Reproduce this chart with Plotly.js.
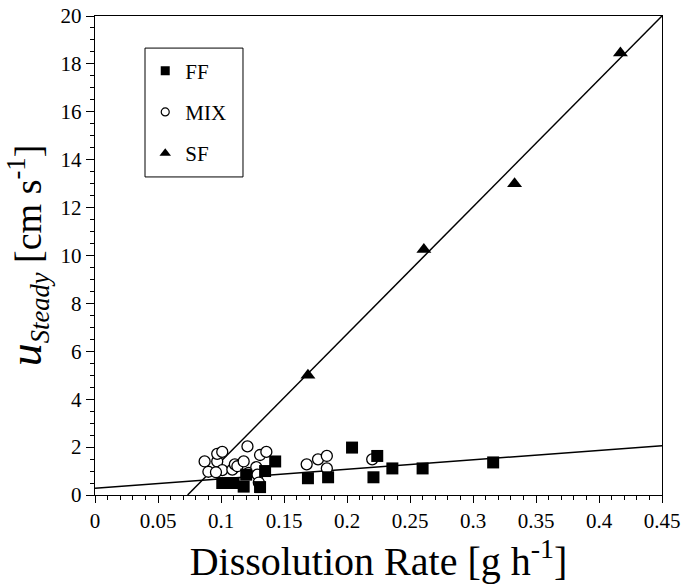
<!DOCTYPE html>
<html>
<head>
<meta charset="utf-8">
<script src="https://cdn.plot.ly/plotly-3.0.1.min.js"></script>
<style>html,body{margin:0;padding:0;background:#fff;}#chart{width:690px;height:584px;}</style>
</head>
<body>
<div id="chart"></div>
<script>
// FF series (filled squares)
const ffX = [0.101, 0.110, 0.118, 0.120, 0.131, 0.135, 0.143, 0.169, 0.185, 0.204, 0.221, 0.224, 0.236, 0.260, 0.316];
const ffY = [0.50, 0.50, 0.35, 0.85, 0.33, 1.00, 1.40, 0.70, 0.74, 1.98, 0.74, 1.63, 1.11, 1.11, 1.36];
// MIX series (open circles)
const mixX = [0.087, 0.090, 0.097, 0.097, 0.101, 0.101, 0.096, 0.109, 0.111, 0.113, 0.118, 0.121, 0.122, 0.128, 0.129, 0.130, 0.131, 0.136, 0.168, 0.177, 0.184, 0.184, 0.220];
const mixY = [1.40, 0.97, 1.40, 1.72, 1.80, 1.04, 0.95, 1.06, 1.28, 1.20, 1.40, 2.03, 0.92, 1.16, 0.85, 0.52, 1.67, 1.80, 1.28, 1.49, 1.63, 1.11, 1.49];
// SF series (filled triangles)
const sfX = [0.169, 0.261, 0.333, 0.417];
const sfY = [5.00, 10.25, 13.00, 18.45];
// Fitted lines (end points)
const fitFFX = [0, 0.45];
const fitFFY = [0.28, 2.06];
const fitSFX = [0.0735, 0.45];
const fitSFY = [0, 20];
// Legend names
const names = ['FF', 'MIX', 'SF'];

const FONT = 'Liberation Serif';

const traces = [
  {x: fitFFX, y: fitFFY, mode: 'lines', line: {color: '#000', width: 1.5}, showlegend: false, hoverinfo: 'skip'},
  {x: fitSFX, y: fitSFY, mode: 'lines', line: {color: '#000', width: 1.5}, showlegend: false, hoverinfo: 'skip'},
  {x: mixX, y: mixY, mode: 'markers', name: names[1], showlegend: false,
   marker: {symbol: 'circle', size: 11, color: '#fff', line: {color: '#000', width: 1.3}}},
  {x: ffX, y: ffY, mode: 'markers', name: names[0], showlegend: false,
   marker: {symbol: 'square', size: 12, color: '#000', line: {width: 0}}},
  {x: sfX, y: sfY, mode: 'markers', name: names[2], showlegend: false,
   marker: {symbol: 'triangle-up', size: 13, color: '#000', line: {width: 0}}},
  // legend-only entries
  {x: [null], y: [null], mode: 'markers', name: names[0], legendgroup: 'a',
   marker: {symbol: 'square', size: 9, color: '#000', line: {width: 0}}},
  {x: [null], y: [null], mode: 'markers', name: names[1], legendgroup: 'b',
   marker: {symbol: 'circle', size: 8, color: '#fff', line: {color: '#000', width: 1.2}}},
  {x: [null], y: [null], mode: 'markers', name: names[2], legendgroup: 'c',
   marker: {symbol: 'triangle-up', size: 10, color: '#000', line: {width: 0}}}
];

const layout = {
  width: 690, height: 584,
  margin: {l: 95, r: 28, t: 16, b: 89, pad: 0},
  paper_bgcolor: '#fff', plot_bgcolor: '#fff',
  font: {family: FONT, color: '#000', size: 21},
  showlegend: true,
  legend: {
    x: 0.0886, y: 0.928, xanchor: 'left', yanchor: 'top',
    bgcolor: 'rgba(0,0,0,0)', borderwidth: 0,
    font: {family: FONT, size: 21, color: '#000'},
    traceorder: 'grouped', tracegroupgap: 11
  },
  shapes: [
    {type: 'rect', xref: 'paper', yref: 'paper', x0: 0.0882, x1: 0.261, y0: 0.664, y1: 0.933,
     line: {color: '#000', width: 1}, fillcolor: 'rgba(0,0,0,0)', layer: 'above'}
  ],
  xaxis: {
    range: [0, 0.45], dtick: 0.05, tick0: 0,
    showgrid: false, zeroline: false,
    showline: true, linecolor: '#000', linewidth: 1.2, mirror: true,
    ticks: 'outside', ticklen: 7, tickwidth: 1, tickcolor: '#000',
    tickfont: {family: FONT, size: 21, color: '#000'},
    minor: {dtick: 0.01, ticks: 'outside', ticklen: 4, tickwidth: 1, tickcolor: '#000', showgrid: false},
    title: {text: 'Dissolution Rate [g h<sup>-1</sup>]', font: {family: FONT, size: 40, color: '#000'}, standoff: 5}
  },
  yaxis: {
    range: [0, 20], dtick: 2, tick0: 0,
    showgrid: false, zeroline: false,
    showline: true, linecolor: '#000', linewidth: 1.2, mirror: true,
    ticks: 'outside', ticklen: 8, tickwidth: 1, tickcolor: '#000',
    tickfont: {family: FONT, size: 21, color: '#000'},
    minor: {dtick: 0.5, ticks: 'outside', ticklen: 4, tickwidth: 1, tickcolor: '#000', showgrid: false},
    title: {text: '<i><span style="font-size:46px">u</span></i><sub><i>Steady</i></sub> [cm s<sup>-1</sup>]', font: {family: FONT, size: 38, color: '#000'}, standoff: 12}
  }
};

Plotly.newPlot('chart', traces, layout, {staticPlot: true, displayModeBar: false});
</script>
</body>
</html>
